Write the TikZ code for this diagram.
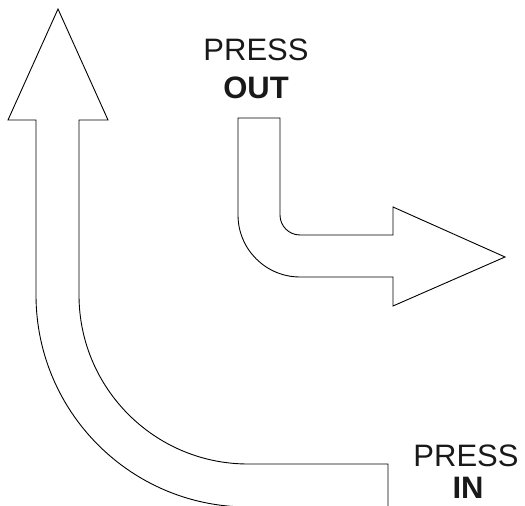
\documentclass[tikz,border=0pt]{standalone}
\usepackage{fontspec}
\setmainfont{Liberation Sans}
\begin{document}
\begin{tikzpicture}[x=1bp,y=1bp,
  outline/.style={draw=black,line width=0.9bp,line join=miter,fill=white},
  label/.style={anchor=base,inner sep=0pt,text=black!90,font=\fontsize{31bp}{38bp}\selectfont}]
\clip (0,0) rectangle (525,506);
\useasboundingbox (0,0) rectangle (525,506);
% big arrow (press in)
\draw[outline] (248,-1) arc[start angle=270,end angle=180,radius=212bp]
  -- (36,386) -- (8,386) -- (58,497) -- (108,386) -- (79,386) -- (79,211)
  arc[start angle=180,end angle=270,radius=169bp] -- (388,42) -- (388,-3);
% small arrow (press out)
\draw[outline] (238,388) -- (280,388) -- (280,291)
  arc[start angle=180,end angle=270,radius=20bp] -- (393,271) -- (393,299)
  -- (505,249) -- (393,200) -- (393,229) -- (300,229)
  arc[start angle=270,end angle=180,radius=62bp] -- cycle;
% labels
\node[label] (pout1) at (256,445) {PRESS};
\node[label] (pout2) at (256,407) {\bfseries OUT};
\node[label] (pin1) at (466,39) {PRESS};
\node[label] (pin2) at (468,7) {\bfseries IN};
\end{tikzpicture}
\end{document}
